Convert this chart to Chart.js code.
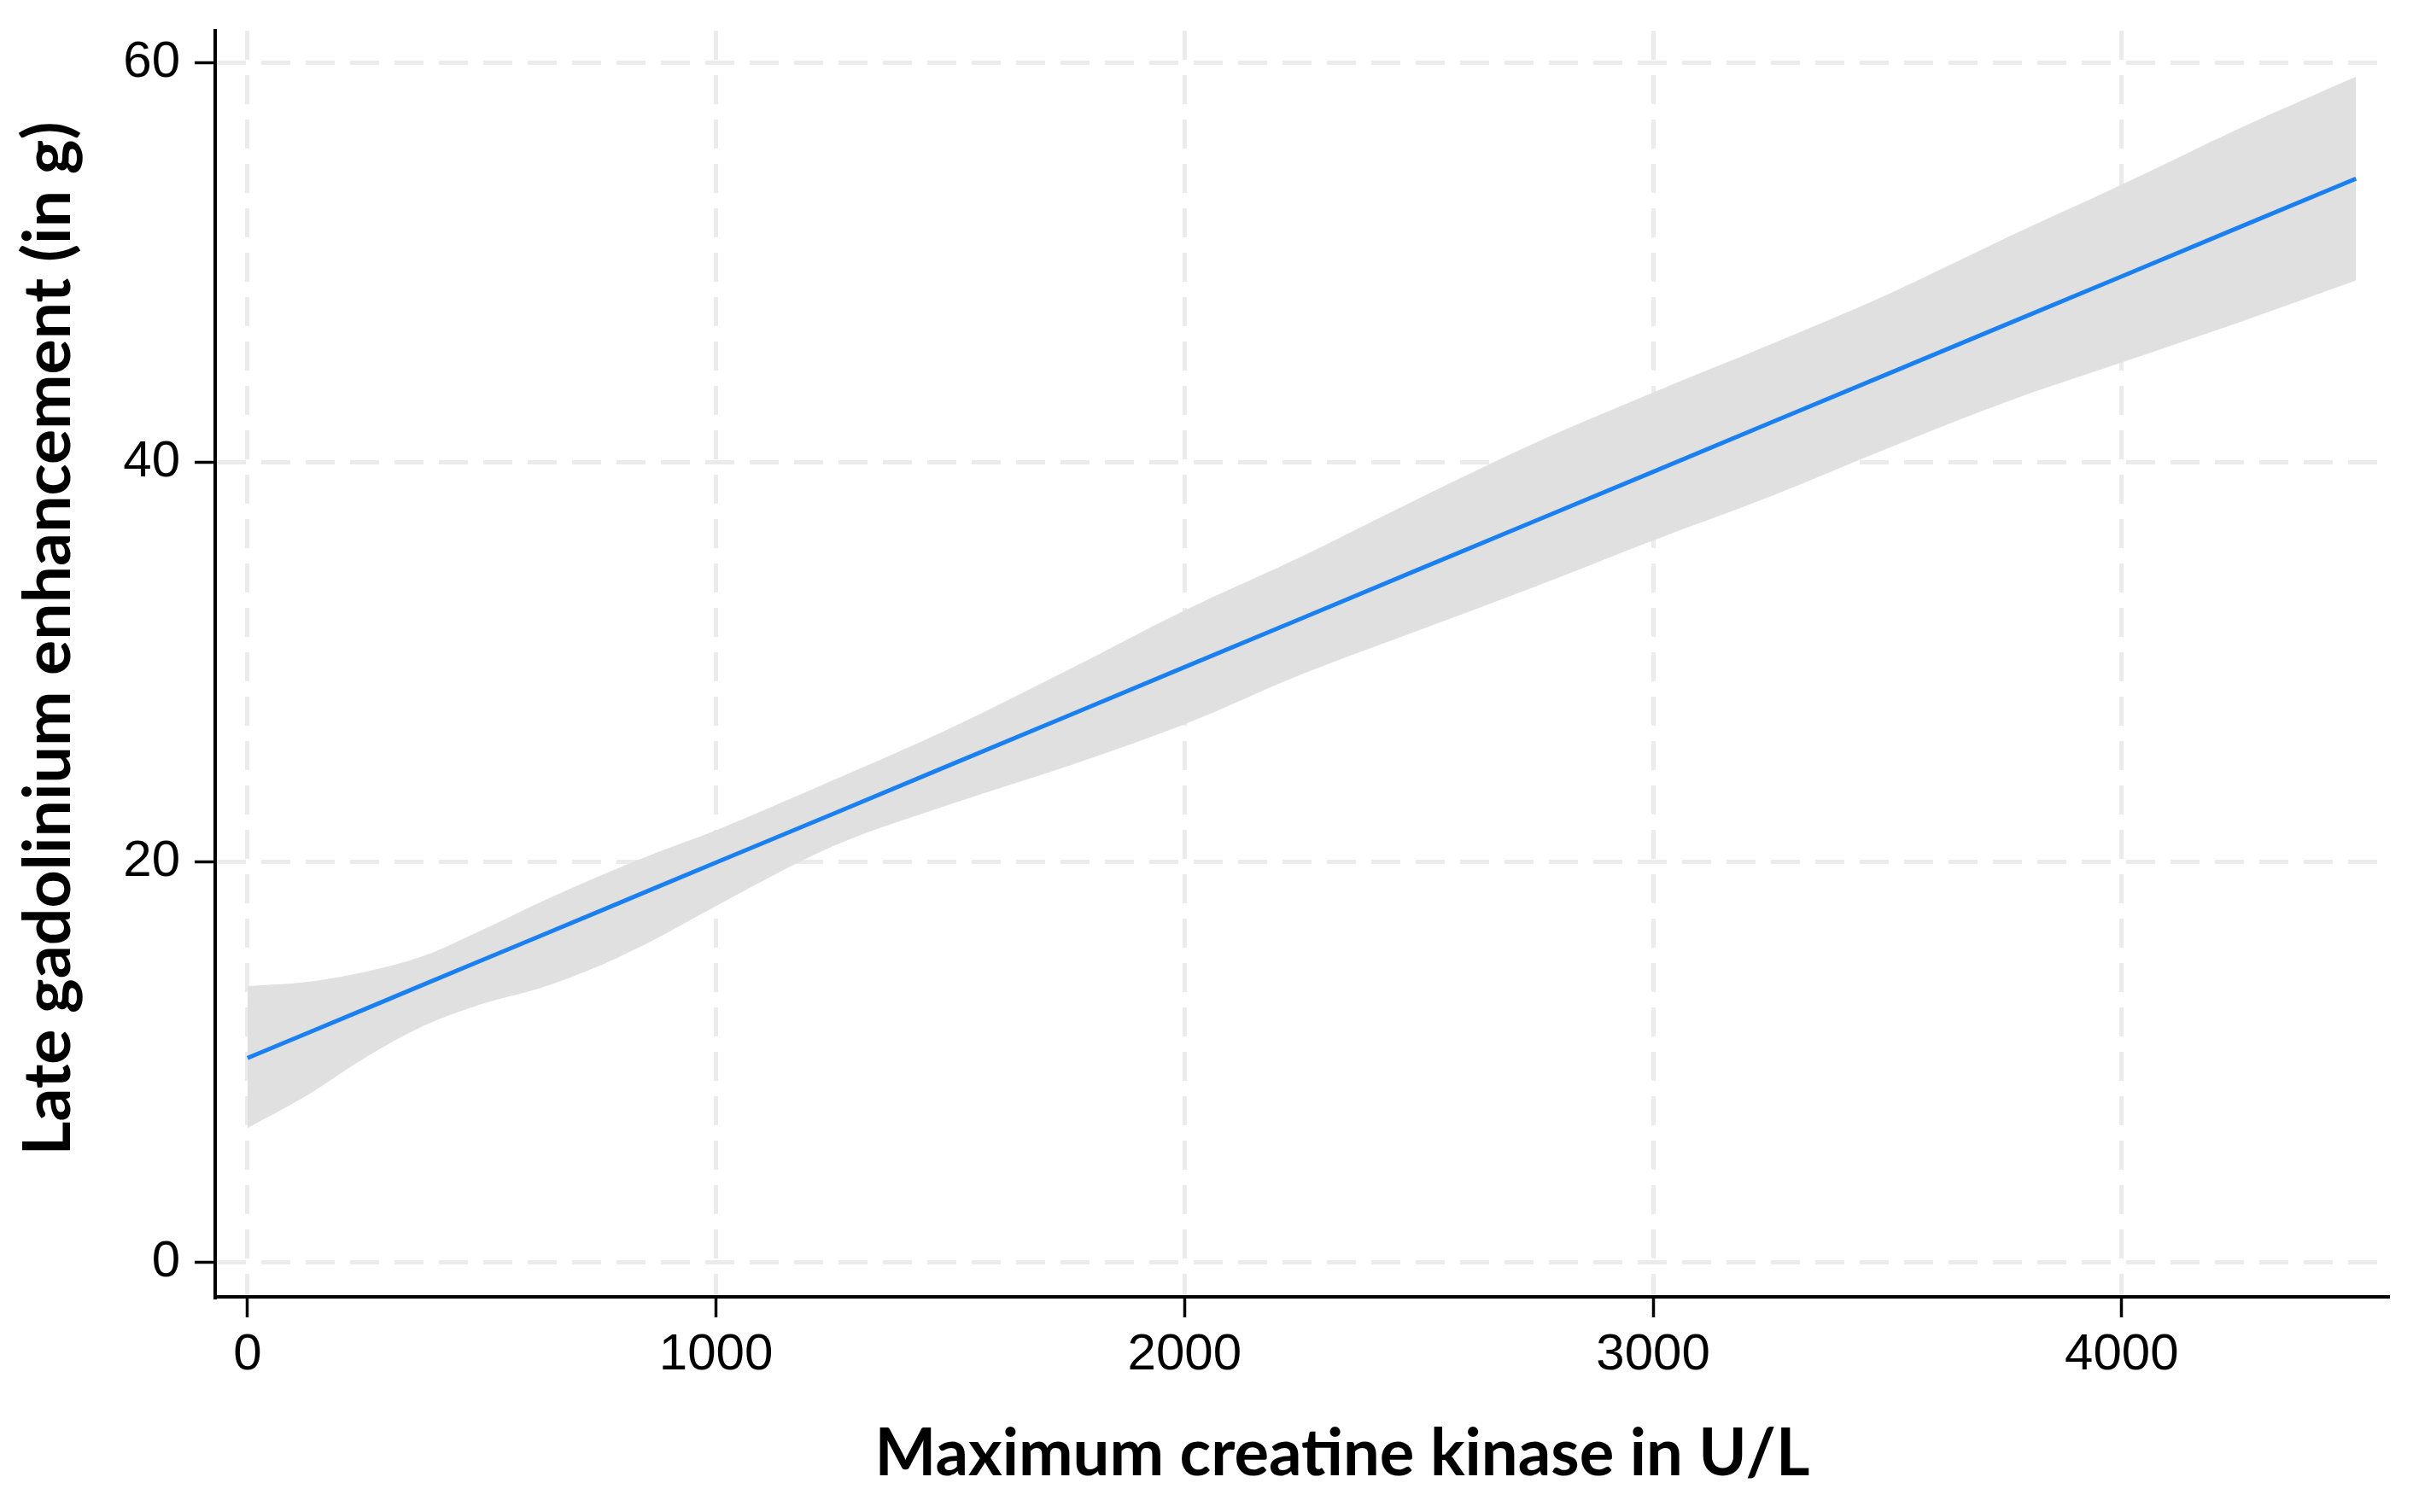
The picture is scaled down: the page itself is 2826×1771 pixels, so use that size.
<!DOCTYPE html>
<html>
<head>
<meta charset="utf-8">
<script src="https://cdn.jsdelivr.net/npm/chart.js@4.4.1/dist/chart.umd.min.js"></script>
<style>
html,body{margin:0;padding:0;background:#ffffff;}
canvas{display:block;}
</style>
</head>
<body>
<canvas id="c" width="2826" height="1771"></canvas>
<script>
// ---- data ----
const creatineKinase = [0, 125, 250, 375, 500, 625, 750, 875, 1000, 1250, 1500, 1750, 2000, 2250, 2500, 2750, 3000, 3250, 3500, 3750, 4000, 4250, 4500];
const fittedLGE      = [10.20, 11.42, 12.64, 13.87, 15.09, 16.31, 17.53, 18.76, 19.98, 22.42, 24.87, 27.31, 29.76, 32.20, 34.65, 37.09, 39.53, 41.98, 44.42, 46.87, 49.31, 51.76, 54.20];
const upperCI        = [13.8, 14.0, 14.5, 15.3, 16.6, 18.0, 19.3, 20.5, 21.6, 24.1, 26.7, 29.6, 32.6, 35.3, 38.2, 41.0, 43.5, 45.9, 48.4, 51.2, 53.9, 56.7, 59.3];
const lowerCI        = [6.7, 8.3, 10.2, 11.8, 12.9, 13.7, 14.8, 16.2, 17.8, 20.8, 22.9, 24.8, 26.9, 29.4, 31.6, 33.8, 36.1, 38.3, 40.7, 43.0, 45.0, 47.0, 49.1];
const xTickValues = [0, 1000, 2000, 3000, 4000];
const yTickValues = [0, 20, 40, 60];
const xTitle = 'Maximum creatine kinase in U/L';
const yTitle = 'Late gadolinium enhancement (in g)';

const toPoints = (ys) => creatineKinase.map((x, i) => ({x: x, y: ys[i]}));

const titlePlugin = {
  id: 'axisTitles',
  afterDraw(chart) {
    const ctx = chart.ctx;
    ctx.save();
    ctx.fillStyle = '#000000';
    ctx.textAlign = 'center';
    ctx.textBaseline = 'alphabetic';
    ctx.font = 'bold 76px Lato';
    ctx.fillText(xTitle, 1572, 1728);
    ctx.font = 'bold 77px Lato';
    ctx.translate(82, 748);
    ctx.rotate(-Math.PI / 2);
    ctx.fillText(yTitle, 0, 0);
    ctx.restore();
  }
};

const gridCommon = {
  color: '#ebebeb',
  lineWidth: 5,
  tickColor: '#000000',
  tickWidth: 3.5,
  tickLength: 24,
  drawTicks: true
};

const tickFont = { family: 'Liberation Sans', size: 60, lineHeight: 1 };

new Chart(document.getElementById('c'), {
  type: 'line',
  data: {
    datasets: [
      {
        label: 'Fit',
        data: toPoints(fittedLGE),
        borderColor: '#1a80f0',
        borderWidth: 5,
        pointRadius: 0,
        fill: false,
        tension: 0
      },
      {
        label: 'Lower',
        data: toPoints(lowerCI),
        borderWidth: 0,
        borderColor: 'rgba(0,0,0,0)',
        pointRadius: 0,
        fill: false,
        cubicInterpolationMode: 'monotone'
      },
      {
        label: 'Upper',
        data: toPoints(upperCI),
        borderWidth: 0,
        borderColor: 'rgba(0,0,0,0)',
        backgroundColor: '#e0e0e0',
        pointRadius: 0,
        fill: 1,
        cubicInterpolationMode: 'monotone'
      }
    ]
  },
  options: {
    responsive: false,
    animation: false,
    devicePixelRatio: 1,
    layout: { padding: { left: 0, top: 36, right: 30, bottom: 0 } },
    plugins: {
      legend: { display: false },
      tooltip: { enabled: false },
      filler: { propagate: false }
    },
    scales: {
      x: {
        type: 'linear',
        min: -69,
        max: 4567,
        grid: gridCommon,
        border: { display: true, color: '#000000', width: 4, dash: [34, 18] },
        ticks: {
          color: '#000000',
          font: tickFont,
          padding: 14,
          maxRotation: 0,
          callback: (v) => String(v)
        },
        afterBuildTicks: (scale) => { scale.ticks = xTickValues.map(v => ({value: v})); },
        afterFit: (scale) => {
          scale.height = 252;
          scale.paddingLeft = 0; scale.paddingRight = 0;
          scale.paddingTop = 0; scale.paddingBottom = 0;
        }
      },
      y: {
        type: 'linear',
        min: -1.75,
        max: 61.6,
        grid: gridCommon,
        border: { display: true, color: '#000000', width: 4, dash: [34, 18] },
        ticks: {
          color: '#000000',
          font: tickFont,
          padding: 17,
          callback: (v) => String(v)
        },
        afterBuildTicks: (scale) => { scale.ticks = yTickValues.map(v => ({value: v})); },
        afterFit: (scale) => {
          scale.width = 252;
          scale.paddingLeft = 0; scale.paddingRight = 0;
          scale.paddingTop = 0; scale.paddingBottom = 0;
        }
      }
    }
  },
  plugins: [titlePlugin]
});
</script>
</body>
</html>
